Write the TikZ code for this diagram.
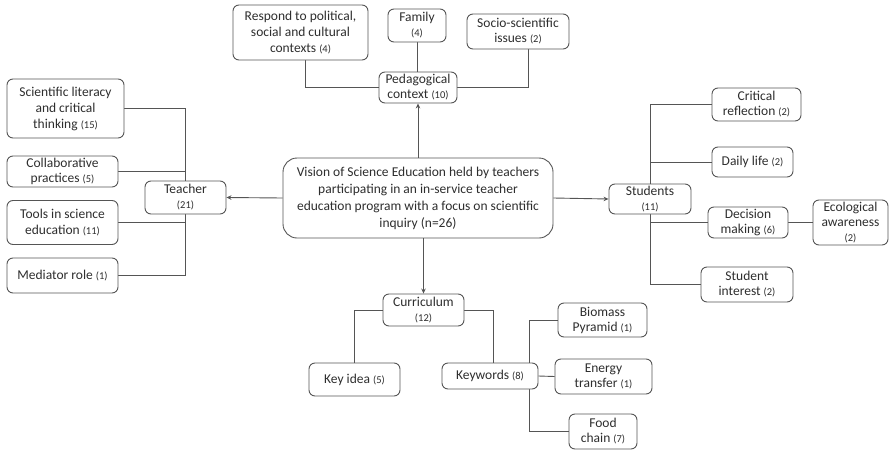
\documentclass[tikz,border=0pt]{standalone}
\usepackage{fontspec}
\setmainfont{Carlito}
\usetikzlibrary{arrows.meta,calc}
\pgfdeclarelayer{bg}
\pgfsetlayers{bg,main}
\definecolor{txt}{HTML}{2E2E2E}
\definecolor{ln}{HTML}{555555}
\newcommand\cnt[1]{{\fontsize{10.5}{12}\selectfont(#1)}}
\begin{document}
\begin{tikzpicture}[x=1pt,y=-1pt,
  box/.style={draw=ln,line width=0.9pt,rounded corners=6pt,fill=white,align=center,
    inner sep=0pt,text=txt,font=\fontsize{13.5}{15}\selectfont},
  conn/.style={draw=ln,line width=0.9pt},
  arr/.style={conn,-{Stealth[length=5pt,width=4.5pt]}}]
\useasboundingbox (0,0) rectangle (889,450);
% top
\node[box,minimum width=135,minimum height=55,font=\fontsize{13.5}{16}\selectfont] (resp) at (300.5,32.5) {Respond to political,\\ social and cultural\\ contexts \cnt{4}};
\node[box,minimum width=58,minimum height=33] (family) at (417,25.5) {Family\\ \cnt{4}};
\node[box,minimum width=102,minimum height=35] (socio) at (518,31.5) {Socio-scientific\\ issues \cnt{2}};
\node[box,minimum width=78,minimum height=31] (ped) at (418,87.5) {Pedagogical\\ context \cnt{10}};
% centre
\node[box,rounded corners=14pt,minimum width=270,minimum height=80,font=\fontsize{13.5}{17}\selectfont] (central) at (418,198) {Vision of Science Education held by teachers\\ participating in an in-service teacher\\ education program with a focus on scientific\\ inquiry (n=26)};
% left
\node[box,minimum width=117,minimum height=59,font=\fontsize{13.5}{16}\selectfont] (sci) at (65.5,108.5) {Scientific literacy\\ and critical\\ thinking \cnt{15}};
\node[box,minimum width=111,minimum height=31] (collab) at (62.5,171.5) {Collaborative\\ practices \cnt{5}};
\node[box,minimum width=81,minimum height=33] (teacher) at (185.5,197.5) {Teacher\\ \cnt{21}};
\node[box,minimum width=111,minimum height=44,font=\fontsize{13.5}{16}\selectfont] (tools) at (62.5,222.5) {Tools in science\\ education \cnt{11}};
\node[box,minimum width=111,minimum height=35] (mediator) at (62.5,275.5) {Mediator role \cnt{1}};
% right
\node[box,minimum width=82,minimum height=30] (students) at (650,199) {Students\\ \cnt{11}};
\node[box,minimum width=89,minimum height=33] (crit) at (756.5,104.5) {Critical\\ reflection \cnt{2}};
\node[box,minimum width=81,minimum height=30] (daily) at (752.5,162) {Daily life \cnt{2}};
\node[box,minimum width=80,minimum height=31] (decision) at (748,222.5) {Decision\\ making \cnt{6}};
\node[box,minimum width=75,minimum height=45] (eco) at (850.5,222.5) {Ecological\\ awareness\\ \cnt{2}};
\node[box,minimum width=92,minimum height=35] (interest) at (747,284.5) {Student\\ interest \cnt{2}};
% bottom
\node[box,minimum width=81,minimum height=32] (curr) at (423.5,310) {Curriculum\\ \cnt{12}};
\node[box,minimum width=91,minimum height=33] (keyidea) at (354.5,379.5) {Key idea \cnt{5}};
\node[box,minimum width=96,minimum height=26] (keywords) at (490,376) {Keywords \cnt{8}};
\node[box,minimum width=89,minimum height=34] (biomass) at (602.5,320) {Biomass\\ Pyramid \cnt{1}};
\node[box,minimum width=97,minimum height=35] (energy) at (603.5,376.5) {Energy\\ transfer \cnt{1}};
\node[box,minimum width=68,minimum height=35] (food) at (603,431.5) {Food\\ chain \cnt{7}};
\coordinate (kb) at (529,376);
\begin{pgfonlayer}{bg}
% pedagogical
\draw[conn] ([xshift=5pt]resp.south) |- (ped.west);
\draw[conn] (family.south) -- (family.south |- ped.north);
\draw[conn] ([xshift=10pt]socio.south) |- (ped.east);
% teacher bus
\draw[conn] (sci.east) -- (sci.east -| teacher.north) -- (mediator.east -| teacher.south) -- (mediator.east);
\draw[conn] (collab.east) -- (collab.east -| teacher.north);
\draw[conn] (tools.east) -- (tools.east -| teacher.south);
% students bus
\draw[conn] (crit.west) -- (crit.west -| students.north) -- (interest.west -| students.south) -- (interest.west);
\draw[conn] (daily.west) -- (daily.west -| students.north);
\draw[conn] (decision.west) -- (decision.west -| students.south);
\draw[conn] (decision.east) -- (eco.west);
% curriculum
\draw[conn] (curr.west) -| (keyidea.north);
\draw[conn] (curr.east) -| ([xshift=3pt]keywords.north);
\draw[conn] (biomass.west) -- (biomass.west -| kb) -- (food.west -| kb) -- (food.west);
\draw[conn] (keywords.east) -- (energy.west);
\end{pgfonlayer}
% arrows
\draw[arr] (central.north) -- (ped.south);
\draw[arr] (central.west) -- (teacher.east);
\draw[arr] (central.east) -- (students.west);
\draw[arr] (curr.north |- central.south) -- (curr.north);
\end{tikzpicture}
\end{document}
